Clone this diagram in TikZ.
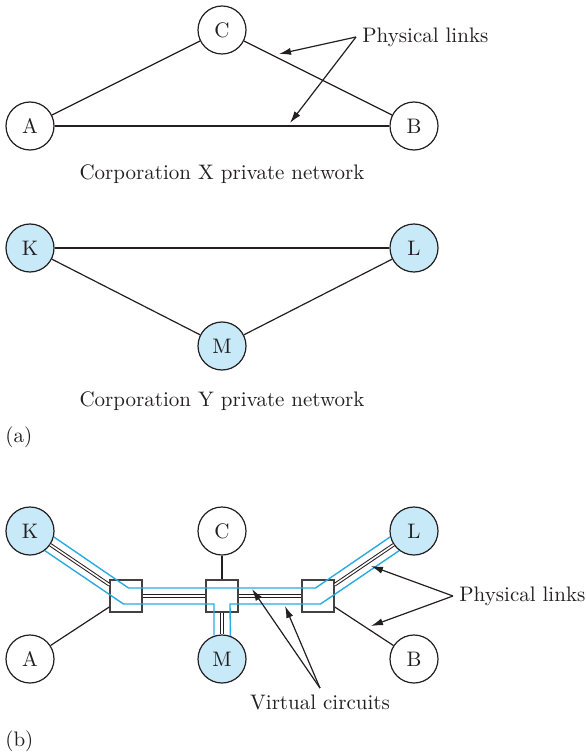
\documentclass[tikz,border=0pt]{standalone}
\usetikzlibrary{arrows.meta}
\definecolor{vcblue}{RGB}{41,171,226}
\definecolor{nodeblue}{RGB}{199,233,248}
\definecolor{ink}{RGB}{35,31,32}
\begin{document}
\begin{tikzpicture}[x=0.5pt,y=-0.5pt,
  site/.style={circle,draw=ink,line width=0.6pt,minimum size=24pt,inner sep=0pt,font=\fontsize{10.5}{12}\selectfont,text=ink},
  ysite/.style={site,fill=nodeblue},
  xsite/.style={site,fill=white},
  switchbox/.style={rectangle,draw=ink!85,line width=0.6pt,minimum size=16pt,inner sep=0pt,fill=white},
  link/.style={draw=ink,line width=0.6pt},
  dlink/.style={draw=ink,line width=0.5pt,double=white,double distance=0.8pt},
  vc/.style={draw=vcblue,line width=0.7pt},
  callout/.style={draw=ink,line width=0.6pt,-{Latex[length=6pt,width=3.6pt]}},
  lbl/.style={font=\fontsize{10.5}{12}\selectfont,text=ink,inner sep=0pt}
]
\useasboundingbox (0,0) rectangle (585,754);

% ---------- (a) Corporation X ----------
\node[xsite] (Ca) at (222,30) {C};
\node[xsite] (Aa) at (30,126) {A};
\node[xsite] (Ba) at (414,126) {B};
\draw[link] (Aa) -- (Ca);
\draw[link] (Ca) -- (Ba);
\draw[link] (Aa) -- (Ba);
\node[lbl,anchor=west,inner sep=3pt] (pla) at (356,37) {Physical links};
\coordinate (pla1) at (279,54);
\coordinate (pla2) at (290,123);
\draw[callout] (pla.west) -- (pla1);
\draw[callout] (pla.west) -- (pla2);
\node[lbl] (capx) at (222,174) {Corporation X private network};

% ---------- (a) Corporation Y ----------
\node[ysite] (Ka) at (30,248) {K};
\node[ysite] (La) at (414,248) {L};
\node[ysite] (Ma) at (222,346) {M};
\draw[link] (Ka) -- (La);
\draw[link] (Ka) -- (Ma);
\draw[link] (Ma) -- (La);
\node[lbl] (capy) at (222,401) {Corporation Y private network};
\node[lbl,anchor=west] (taga) at (5,437) {(a)};

% ---------- (b) shared network ----------
\node[ysite] (Kb) at (30,531) {K};
\node[xsite] (Cb) at (222,531) {C};
\node[ysite] (Lb) at (414,531) {L};
\node[xsite] (Ab) at (30,659) {A};
\node[ysite] (Mb) at (222,659) {M};
\node[xsite] (Bb) at (414,659) {B};
\node[switchbox] (S1) at (126,596) {};
\node[switchbox] (S2) at (222,596) {};
\node[switchbox] (S3) at (318,596) {};

\draw[dlink] (Kb) -- (S1);
\draw[link] (Ab) -- (S1);
\draw[dlink] (S1) -- (S2);
\draw[dlink] (S2) -- (S3);
\draw[link] (Cb) -- (S2);
\draw[dlink] (S2) -- (Mb);
\draw[dlink] (S3) -- (Lb);
\draw[link] (S3) -- (Bb);

% virtual circuits
\coordinate (u1) at (128.5,588);
\coordinate (u2) at (315.5,588);
\coordinate (l1) at (123.5,604);
\coordinate (l2) at (214,604);
\coordinate (r1) at (230,604);
\coordinate (r2) at (320.5,604);
\draw[vc] (Kb.-14.6) -- (u1) -- (u2) -- (Lb.194.6);
\draw[vc] (Kb.-53.6) -- (l1) -- (l2) -- (Mb.109.5);
\draw[vc] (Mb.70.5) -- (r1) -- (r2) -- (Lb.233.6);

% labels
\node[lbl,anchor=west,inner sep=3pt] (plb) at (453,596) {Physical links};
\coordinate (plb1) at (371,566);
\coordinate (plb2) at (371,626);
\draw[callout] (plb.west) -- (plb1);
\draw[callout] (plb.west) -- (plb2);

\node[lbl,inner sep=3pt] (vcl) at (320,702) {Virtual circuits};
\coordinate (vc1) at (252,589);
\coordinate (vc2) at (285,606);
\draw[callout] (vcl.north) -- (vc1);
\draw[callout] (vcl.north) -- (vc2);

\node[lbl,anchor=west] (tagb) at (5,741) {(b)};
\end{tikzpicture}
\end{document}
